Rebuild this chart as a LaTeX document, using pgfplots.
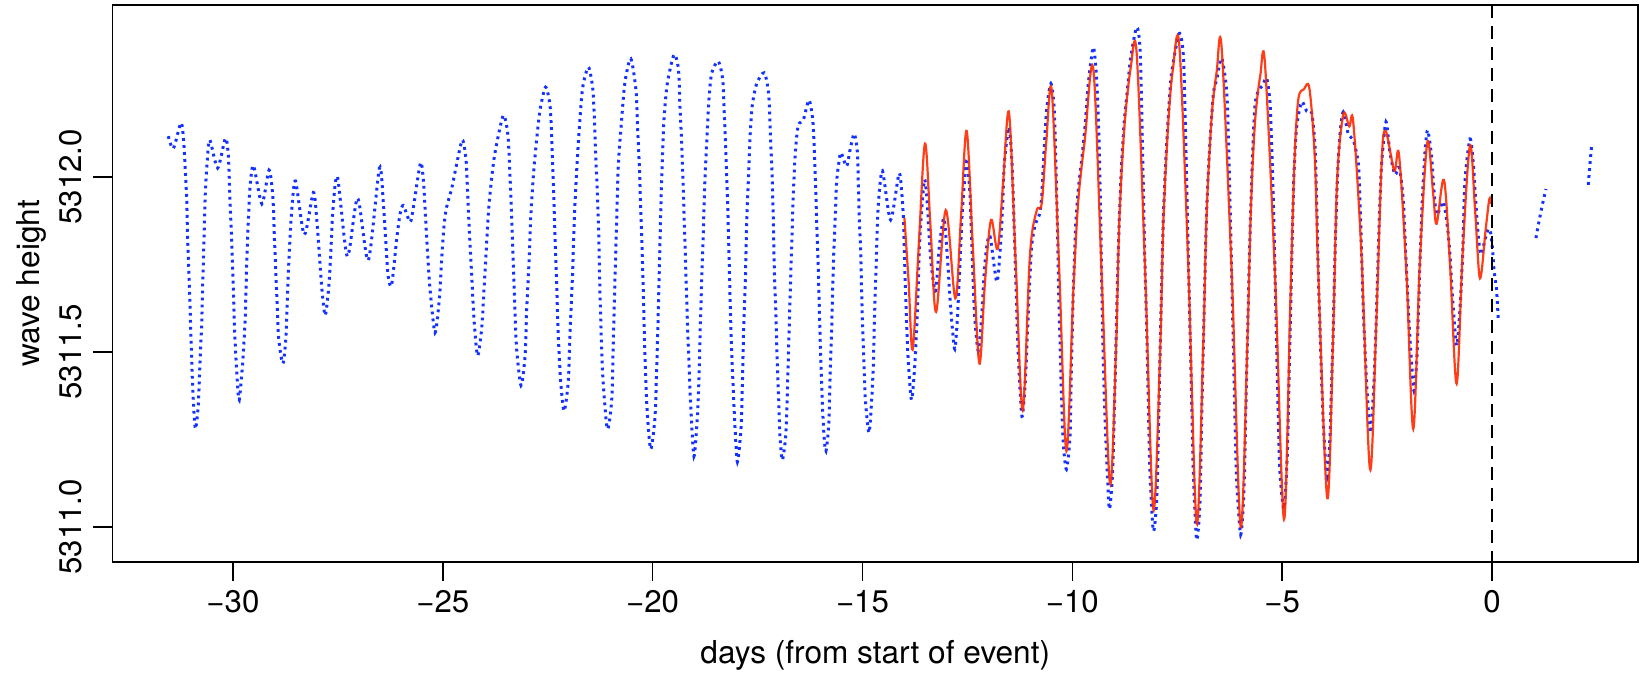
\documentclass[border=0pt]{standalone}
\usepackage{fontspec}
\setmainfont{TeX Gyre Heros}
\usepackage{pgfplots}
\pgfplotsset{compat=1.18}
\definecolor{rblue}{RGB}{20,50,255}
\definecolor{rred}{RGB}{255,40,0}
\begin{document}
\begin{tikzpicture}
\useasboundingbox (-56.25bp,-55.5bp) rectangle (763.75bp,281bp);
\begin{axis}[
  at={(0,0)}, anchor=south west,
  width=762.75bp, height=278.5bp, scale only axis,
  xmin=-32.87, xmax=3.48, ymin=5310.9, ymax=5312.4906,
  axis line style={line width=0.8bp},
  tick pos=left, tick align=outside,
  major tick length=9.5bp,
  every tick/.style={line width=0.8bp, black},
  xtick={-30,-25,-20,-15,-10,-5,0},
  xticklabels={−30,−25,−20,−15,−10,−5,0},
  ytick={5311,5311.5,5312},
  yticklabels={5311.0,5311.5,5312.0},
  tick label style={font=\fontsize{15.6bp}{18bp}\selectfont},
  xticklabel style={anchor=north, inner sep=0pt},
  xticklabel shift=4.5bp,
  yticklabel style={rotate=90, anchor=south, inner sep=0pt},
  yticklabel shift=5.5bp,
  xlabel={days (from start of event)},
  ylabel={wave height},
  label style={font=\fontsize{15.8bp}{18bp}\selectfont},
  xlabel style={at={(axis description cs:0.5,-0.167)}, anchor=center},
  ylabel style={at={(axis description cs:-0.0534,0.5)}, anchor=center},
  clip=true,
]
\addplot[rblue, line width=1.5bp, dash pattern=on 1.4bp off 2.1bp, smooth, tension=0.45] coordinates {
(-31.54,5312.116) (-31.42,5312.081) (-31.24,5312.154) (-31.18,5312.11) (-31.14,5312.03) (-31.10,5311.93) (-31.08,5311.82) (-31.04,5311.70) (-31.01,5311.58) (-30.97,5311.43) (-30.93,5311.33) (-30.89,5311.28) (-30.825,5311.35) (-30.785,5311.47) (-30.745,5311.58) (-30.72,5311.695) (-30.69,5311.82) (-30.66,5311.95) (-30.61,5312.05) (-30.55,5312.105) (-30.365,5312.025) (-30.18,5312.11) (-30.11,5312.06) (-30.07,5311.934) (-30.03,5311.81) (-29.99,5311.674) (-29.95,5311.534) (-29.895,5311.415) (-29.85,5311.363) (-29.77,5311.467) (-29.71,5311.591) (-29.67,5311.757) (-29.63,5311.882) (-29.59,5311.975) (-29.51,5312.032) (-29.31,5311.923) (-29.14,5312.019) (-29.05,5311.944) (-29.01,5311.82) (-28.96,5311.674) (-28.91,5311.539) (-28.81,5311.467) (-28.74,5311.539) (-28.70,5311.664) (-28.66,5311.778) (-28.60,5311.903) (-28.51,5311.988) (-28.30,5311.835) (-28.085,5311.955) (-28.005,5311.882) (-27.94,5311.778) (-27.885,5311.685) (-27.805,5311.604) (-27.725,5311.674) (-27.67,5311.778) (-27.62,5311.903) (-27.51,5312.0) (-27.275,5311.773) (-27.03,5311.939) (-26.775,5311.762) (-26.51,5312.025)
(-26.415,5311.923) (-26.35,5311.799) (-26.30,5311.716) (-26.22,5311.69) (-26.10,5311.82) (-26.02,5311.892) (-25.94,5311.918) (-25.78,5311.871) (-25.70,5311.913) (-25.53,5312.04) (-25.46,5311.986) (-25.41,5311.882) (-25.36,5311.778) (-25.30,5311.674) (-25.185,5311.555) (-25.08,5311.653) (-25.03,5311.757) (-24.97,5311.861) (-24.91,5311.913) (-24.79,5311.965) (-24.685,5312.027) (-24.535,5312.105) (-24.445,5312.048) (-24.405,5311.944) (-24.365,5311.84) (-24.31,5311.716) (-24.255,5311.591) (-24.17,5311.489) (-24.07,5311.57) (-24.02,5311.674) (-23.97,5311.778) (-23.91,5311.903) (-23.835,5311.996) (-23.755,5312.069) (-23.56,5312.175) (-23.45,5312.121) (-23.40,5312.006) (-23.36,5311.882) (-23.32,5311.757) (-23.28,5311.622) (-23.24,5311.508) (-23.135,5311.404) (-23.04,5311.487) (-23.00,5311.622) (-22.945,5311.757) (-22.905,5311.882) (-22.84,5312.006) (-22.76,5312.11) (-22.68,5312.193) (-22.55,5312.256) (-22.445,5312.204) (-22.405,5312.11) (-22.365,5311.975) (-22.325,5311.83) (-22.285,5311.685) (-22.245,5311.539) (-22.19,5311.415) (-22.11,5311.331) (-22.01,5311.415) (-21.97,5311.55) (-21.91,5311.716) (-21.865,5311.882) (-21.81,5312.017) (-21.745,5312.142) (-21.665,5312.256) (-21.53,5312.313) (-21.43,5312.256) (-21.39,5312.173) (-21.36,5312.069) (-21.32,5311.965) (-21.285,5311.84) (-21.26,5311.695) (-21.23,5311.57) (-21.19,5311.435) (-21.08,5311.28) (-20.975,5311.363) (-20.935,5311.539) (-20.895,5311.716) (-20.855,5311.882) (-20.815,5312.038) (-20.74,5312.16) (-20.66,5312.27)
(-20.52,5312.337) (-20.395,5312.245) (-20.355,5312.131) (-20.315,5312.027) (-20.285,5311.913) (-20.25,5311.788) (-20.22,5311.664) (-20.195,5311.539) (-20.165,5311.425) (-20.125,5311.321) (-20.045,5311.222) (-19.945,5311.311) (-19.905,5311.446) (-19.87,5311.591) (-19.84,5311.736) (-19.81,5311.882) (-19.775,5312.027) (-19.73,5312.162) (-19.65,5312.266) (-19.49,5312.349) (-19.385,5312.308) (-19.35,5312.204) (-19.305,5312.09) (-19.27,5311.965) (-19.235,5311.83) (-19.205,5311.716) (-19.17,5311.581) (-19.13,5311.456) (-19.09,5311.342) (-19.015,5311.202) (-18.935,5311.311) (-18.895,5311.425) (-18.865,5311.57) (-18.83,5311.705) (-18.79,5311.851) (-18.76,5311.975) (-18.71,5312.10) (-18.655,5312.225) (-18.59,5312.297) (-18.435,5312.330) (-18.33,5312.277) (-18.29,5312.173) (-18.25,5312.048) (-18.21,5311.913) (-18.18,5311.778) (-18.15,5311.633) (-18.115,5311.498) (-18.075,5311.383) (-18.035,5311.28) (-17.98,5311.186) (-17.895,5311.28) (-17.86,5311.415) (-17.83,5311.57) (-17.79,5311.705) (-17.76,5311.861) (-17.72,5311.986) (-17.68,5312.11) (-17.625,5312.204) (-17.52,5312.266) (-17.34,5312.297) (-17.235,5312.235) (-17.19,5312.11) (-17.155,5312.006) (-17.125,5311.882) (-17.10,5311.736) (-17.06,5311.601) (-17.03,5311.467) (-16.995,5311.363) (-16.965,5311.259) (-16.91,5311.191) (-16.83,5311.259) (-16.79,5311.383) (-16.76,5311.508) (-16.725,5311.653) (-16.685,5311.809) (-16.645,5311.955) (-16.6,5312.069) (-16.53,5312.147) (-16.41,5312.162) (-16.275,5312.219) (-16.185,5312.162) (-16.145,5312.069) (-16.115,5311.965) (-16.085,5311.851) (-16.05,5311.726) (-16.02,5311.591) (-15.99,5311.467) (-15.955,5311.352) (-15.915,5311.259) (-15.87,5311.217) (-15.805,5311.29) (-15.775,5311.415) (-15.74,5311.539) (-15.715,5311.653) (-15.685,5311.778) (-15.645,5311.892) (-15.615,5311.986) (-15.565,5312.038) (-15.51,5312.069) (-15.38,5312.03) (-15.29,5312.08) (-15.195,5312.123)
(-15.12,5312.069) (-15.10,5311.986) (-15.075,5311.882) (-15.04,5311.778) (-15.02,5311.674) (-14.995,5311.57) (-14.965,5311.467) (-14.93,5311.363) (-14.845,5311.269) (-14.78,5311.363) (-14.74,5311.467) (-14.715,5311.591) (-14.685,5311.705) (-14.655,5311.82) (-14.62,5311.923) (-14.525,5312.017) (-14.33,5311.877) (-14.13,5312.009) (-14.065,5311.955) (-14.025,5311.882) (-13.985,5311.716) (-13.945,5311.57) (-13.905,5311.467) (-13.83,5311.363) (-13.75,5311.467) (-13.69,5311.622) (-13.63,5311.83) (-13.525,5311.991) (-13.455,5311.923) (-13.41,5311.83) (-13.35,5311.736) (-13.255,5311.674) (-13.17,5311.799) (-13.06,5311.882) (-12.98,5311.778) (-12.915,5311.653) (-12.86,5311.57) (-12.80,5311.508) (-12.74,5311.591) (-12.675,5311.757) (-12.62,5311.903) (-12.52,5312.043) (-12.44,5311.955) (-12.40,5311.83) (-12.36,5311.695) (-12.32,5311.591) (-12.24,5311.503) (-12.16,5311.601) (-12.10,5311.726) (-12.04,5311.799) (-11.96,5311.83) (-11.80,5311.70) (-11.72,5311.788) (-11.665,5311.903) (-11.62,5312.038) (-11.51,5312.142) (-11.445,5312.058) (-11.405,5311.934) (-11.365,5311.778) (-11.325,5311.622) (-11.285,5311.487) (-11.20,5311.316) (-11.12,5311.415) (-11.07,5311.55) (-11.025,5311.674) (-10.97,5311.799) (-10.89,5311.861) (-10.785,5311.892) (-10.73,5311.944) (-10.675,5312.069) (-10.61,5312.193) (-10.51,5312.266) (-10.43,5312.193) (-10.39,5312.038) (-10.355,5311.861) (-10.325,5311.674) (-10.29,5311.518) (-10.255,5311.363) (-10.215,5311.238) (-10.14,5311.165)
(-10.055,5311.259) (-10.02,5311.46) (-9.975,5311.68) (-9.92,5311.861) (-9.856,5311.965) (-9.777,5312.048) (-9.698,5312.142) (-9.618,5312.266) (-9.499,5312.37) (-9.42,5312.277) (-9.364,5312.11) (-9.324,5311.882) (-9.293,5311.653) (-9.26,5311.467) (-9.22,5311.311) (-9.18,5311.196) (-9.118,5311.051) (-9.04,5311.155) (-8.999,5311.331) (-8.96,5311.518) (-8.92,5311.716) (-8.88,5311.882) (-8.824,5312.038) (-8.76,5312.162) (-8.689,5312.245) (-8.61,5312.339) (-8.467,5312.427) (-8.387,5312.37) (-8.347,5312.193) (-8.31,5311.986) (-8.27,5311.757) (-8.228,5311.57) (-8.19,5311.363) (-8.149,5311.155) (-8.07,5310.989) (-7.99,5311.072) (-7.95,5311.259) (-7.91,5311.487) (-7.871,5311.695) (-7.831,5311.882) (-7.775,5312.038) (-7.712,5312.173) (-7.633,5312.297) (-7.45,5312.409) (-7.355,5312.349) (-7.315,5312.193) (-7.275,5311.986) (-7.236,5311.778) (-7.196,5311.57) (-7.156,5311.363) (-7.116,5311.155) (-7.037,5310.963) (-6.957,5311.072) (-6.918,5311.311) (-6.878,5311.518) (-6.838,5311.726) (-6.799,5311.903) (-6.735,5312.069) (-6.64,5312.235) (-6.56,5312.277) (-6.441,5312.339) (-6.322,5312.245) (-6.275,5312.09) (-6.243,5311.934) (-6.203,5311.726) (-6.163,5311.518) (-6.124,5311.311) (-6.084,5311.134) (-5.988,5310.978) (-5.909,5311.103) (-5.87,5311.311) (-5.83,5311.518) (-5.79,5311.726) (-5.75,5311.903) (-5.703,5312.069) (-5.647,5312.204) (-5.568,5312.245) (-5.464,5312.261) (-5.37,5312.282) (-5.29,5312.214) (-5.25,5312.09) (-5.21,5311.934) (-5.17,5311.726) (-5.131,5311.518) (-5.091,5311.311) (-5.051,5311.155) (-4.956,5311.051) (-4.877,5311.207) (-4.837,5311.415) (-4.797,5311.622) (-4.758,5311.83) (-4.718,5312.006) (-4.655,5312.142) (-4.535,5312.214) (-4.416,5312.188) (-4.297,5312.183)
(-4.218,5312.09) (-4.178,5311.934) (-4.138,5311.726) (-4.099,5311.57) (-4.059,5311.415) (-4.003,5311.259) (-3.924,5311.145) (-3.86,5311.259) (-3.82,5311.415) (-3.781,5311.57) (-3.741,5311.778) (-3.686,5311.986) (-3.622,5312.121) (-3.543,5312.185) (-3.423,5312.121) (-3.304,5312.105) (-3.185,5312.038) (-3.145,5311.934) (-3.106,5311.778) (-3.066,5311.622) (-3.01,5311.467) (-2.963,5311.363) (-2.891,5311.269) (-2.812,5311.415) (-2.764,5311.57) (-2.724,5311.726) (-2.685,5311.882) (-2.629,5312.038) (-2.526,5312.157) (-2.431,5312.069) (-2.311,5312.006) (-2.208,5312.027) (-2.113,5311.934) (-2.073,5311.83) (-2.033,5311.726) (-1.97,5311.57) (-1.914,5311.467) (-1.859,5311.389) (-1.795,5311.467) (-1.755,5311.601) (-1.716,5311.757) (-1.66,5311.934) (-1.597,5312.069) (-1.533,5312.133) (-1.438,5312.058) (-1.398,5311.986) (-1.319,5311.892) (-1.16,5311.929) (-1.065,5311.861) (-1.001,5311.778) (-0.938,5311.653) (-0.842,5311.518) (-0.763,5311.622) (-0.699,5311.778) (-0.644,5311.986) (-0.524,5312.108) (-0.445,5312.038) (-0.389,5311.934) (-0.326,5311.83) (-0.262,5311.778) (-0.167,5311.82) (-0.088,5311.851) (-0.032,5311.84) (0.016,5311.788) (0.047,5311.736) (0.111,5311.674) (0.15,5311.591)
};
\addplot[rblue, line width=1.5bp, dash pattern=on 1.4bp off 2.1bp] coordinates {(1.048,5311.825) (1.10,5311.86) (1.20,5311.92) (1.286,5311.965)};
\addplot[rblue, line width=1.5bp, dash pattern=on 1.4bp off 2.1bp] coordinates {(2.295,5311.977) (2.33,5312.03) (2.374,5312.089)};
\addplot[rred, line width=1.1bp, opacity=0.9, smooth, tension=0.55] coordinates {
(-14.00,5311.882) (-13.90,5311.70) (-13.805,5311.506) (-13.66,5311.80) (-13.51,5312.095) (-13.38,5311.86) (-13.245,5311.614) (-13.015,5311.905) (-12.787,5311.653) (-12.65,5311.89) (-12.517,5312.131) (-12.37,5311.80) (-12.215,5311.467) (-12.08,5311.70) (-11.937,5311.877) (-11.78,5311.794) (-11.65,5311.98) (-11.508,5312.183) (-11.35,5311.76) (-11.183,5311.334) (-11.008,5311.778) (-10.85,5311.903) (-10.73,5311.923) (-10.62,5312.10) (-10.49,5312.247) (-10.31,5311.73) (-10.14,5311.217) (-9.975,5311.674) (-9.856,5311.934) (-9.698,5312.11) (-9.499,5312.308) (-9.30,5311.72) (-9.102,5311.124) (-8.96,5311.50) (-8.88,5311.87) (-8.76,5312.14) (-8.61,5312.31) (-8.467,5312.354) (-8.27,5311.75) (-8.07,5311.051) (-7.91,5311.49) (-7.83,5311.87) (-7.71,5312.16) (-7.60,5312.31) (-7.45,5312.375) (-7.24,5311.76) (-7.037,5311.01) (-6.88,5311.52) (-6.80,5311.89) (-6.68,5312.17) (-6.56,5312.30) (-6.441,5312.368) (-6.20,5311.72) (-5.988,5311.0) (-5.83,5311.52) (-5.75,5311.89) (-5.65,5312.15) (-5.52,5312.29) (-5.409,5312.323) (-5.17,5311.72) (-4.956,5311.022) (-4.81,5311.62) (-4.75,5311.88) (-4.69,5312.09) (-4.61,5312.225) (-4.48,5312.25) (-4.35,5312.252) (-4.22,5312.05) (-4.14,5311.73) (-3.924,5311.082) (-3.78,5311.57) (-3.69,5311.99) (-3.543,5312.178) (-3.40,5312.144) (-3.304,5312.154) (-3.11,5311.78) (-2.907,5311.165) (-2.76,5311.57) (-2.63,5312.04) (-2.534,5312.131) (-2.327,5312.017) (-2.216,5312.064) (-2.04,5311.73) (-1.875,5311.28) (-1.72,5311.75) (-1.541,5312.098) (-1.40,5311.95) (-1.319,5311.866) (-1.144,5311.991) (-1.00,5311.75) (-0.842,5311.409) (-0.70,5311.78) (-0.524,5312.09) (-0.40,5311.90) (-0.286,5311.71) (-0.15,5311.85) (-0.064,5311.936) (-0.032,5311.923)
};
\addplot[black, line width=1bp, dash pattern=on 6.5bp off 4bp] coordinates {(0,5312.4906) (0,5310.9)};
\end{axis}
\end{tikzpicture}
\end{document}
